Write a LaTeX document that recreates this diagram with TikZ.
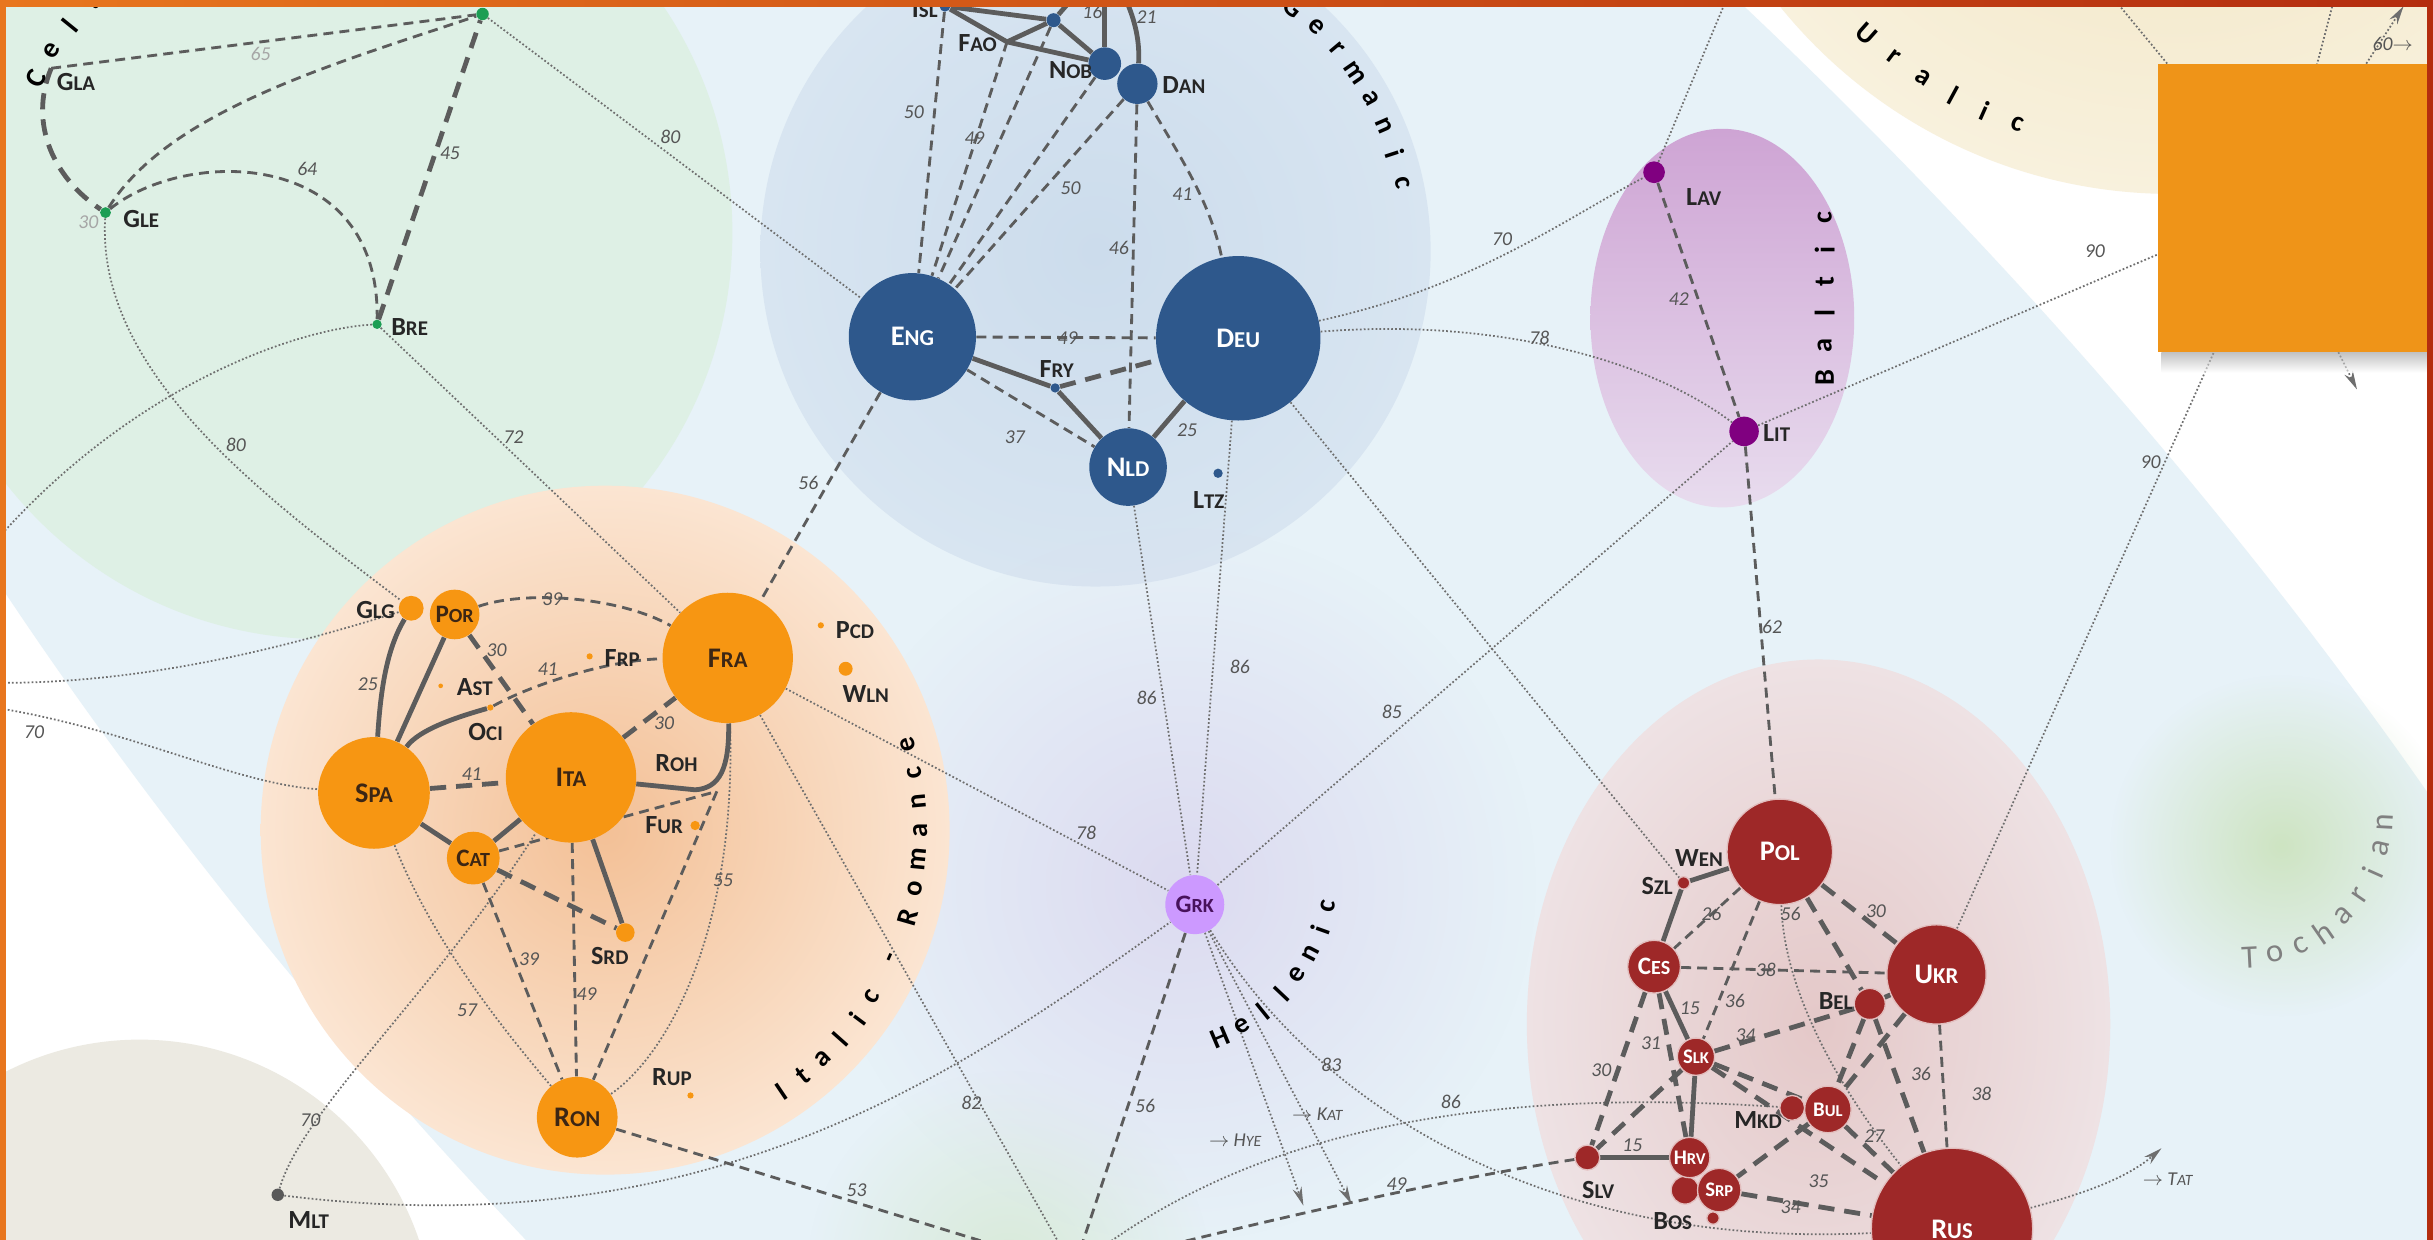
\documentclass[tikz,border=0pt]{standalone}
\usepackage{fontspec}
\setmainfont{Carlito}
\usetikzlibrary{calc,arrows.meta,fadings}

\definecolor{germ}{RGB}{46,88,140}
\definecolor{roman}{RGB}{247,150,18}
\definecolor{romtext}{RGB}{60,38,20}
\definecolor{slav}{RGB}{158,40,40}
\definecolor{balt}{RGB}{128,0,128}
\definecolor{celt}{RGB}{28,158,84}
\definecolor{grkfill}{RGB}{204,153,255}
\definecolor{grktext}{RGB}{72,18,92}
\definecolor{lnk}{RGB}{92,92,92}
\definecolor{thinlnk}{RGB}{110,110,110}
\definecolor{wtc}{RGB}{85,85,85}
\definecolor{bgblue}{RGB}{231,242,248}
\definecolor{bggreen}{RGB}{222,240,229}
\definecolor{bggerm}{RGB}{204,220,236}
\definecolor{bggermout}{RGB}{216,229,241}
\definecolor{bgroma}{RGB}{243,192,150}
\definecolor{bgromb}{RGB}{251,229,210}
\definecolor{bghell}{RGB}{220,218,240}
\definecolor{bgslava}{RGB}{228,200,200}
\definecolor{bgslavb}{RGB}{238,226,228}
\definecolor{bgbalta}{RGB}{206,164,212}
\definecolor{bgbaltb}{RGB}{232,220,238}
\definecolor{bgural}{RGB}{240,226,188}
\definecolor{bguralout}{RGB}{248,241,221}
\definecolor{bgbeige}{RGB}{236,234,226}
\definecolor{bgtoch}{RGB}{206,228,194}
\definecolor{framea}{RGB}{232,118,30}
\definecolor{frameb}{RGB}{180,45,15}
\definecolor{boxfill}{RGB}{239,148,24}

\pgfdeclarelayer{bg}
\pgfdeclarelayer{links}
\pgfsetlayers{bg,links,main}

\tikzfading[name=softdisc, inner color=transparent!0, outer color=transparent!100]

% language code: first letter, rest as small capitals
\newcommand\iso[2]{#1\scalebox{0.8}{#2}}

\begin{document}
\begin{tikzpicture}[x=0.25mm, y=-0.25mm,
    lang/.style={circle, inner sep=0pt, fill=#1},
    sz/.style={minimum size=#1*0.5mm},
    big/.style={font=\fontsize{13}{14}\selectfont\bfseries},
    mid/.style={font=\fontsize{11.5}{12}\selectfont\bfseries},
    sml/.style={font=\fontsize{9.5}{10}\selectfont\bfseries},
    tag/.style={font=\fontsize{12}{13}\selectfont\bfseries, text=black!85, inner sep=1pt},
    wt/.style={font=\fontsize{9}{10}\selectfont\itshape, text=wtc, inner sep=1pt},
    grp/.style={font=\fontsize{13}{14}\selectfont\bfseries, inner sep=0pt},
    romn/.style={lang=roman, text=romtext},
    slavn/.style={lang=slav, draw=white!70!slav, line width=0.6pt, text=white},
    strong/.style={draw=lnk, line width=2.2pt},
    longdash/.style={draw=lnk, line width=2.2pt, dash pattern=on 2.6mm off 1.6mm},
    mdash/.style={draw=lnk, line width=1.3pt, dash pattern=on 1.6mm off 1mm},
    dots/.style={draw=thinlnk, line width=0.8pt, densely dotted},
    tip/.style={-{Stealth[length=3mm, width=1.5mm]}}]

\useasboundingbox (0,0) rectangle (1568,799);
\clip (0,0) rectangle (1568,799);

% background regions
\begin{pgfonlayer}{bg}
\fill[white] (0,0) rectangle (1568,799);
\fill[bgblue, rotate around={-45:(800,470)}] (800,470) ellipse [x radius=1400, y radius=560];
\fill[bgbeige] (90,860) circle (190);
\fill[bgtoch, opacity=0.6, path fading=softdisc] (650,820) circle (130);
\shade[inner color=bgural, outer color=bguralout] (1400,-200) circle (325);
\fill[bggreen] (210,150) circle (262);
\shade[inner color=bggerm, outer color=bggermout] (706,162) circle (216);
\fill[bghell, path fading=softdisc] (760,570) circle (230);
\shade[inner color=bgroma, outer color=bgromb] (390,535) circle (222);
\shade[top color=bgbalta, bottom color=bgbaltb] (1110,205) ellipse [x radius=85, y radius=122];
\shade[inner color=bgslava, outer color=bgslavb] (1172,660) ellipse [x radius=188, y radius=235];
\fill[bgtoch, path fading=softdisc] (1470,545) circle (110);
\end{pgfonlayer}

% Celtic
\node[lang=celt, sz=4] (cym) at (311,9) {};
\coordinate (gla) at (33,44);
\node[lang=celt, sz=3.5] (gle) at (68,137) {};
\node[lang=celt, sz=3] (bre) at (243,209) {};
\node[tag] (glaT) at (49,53) {\iso{G}{LA}};
\node[tag] (gleT) at (91,141) {\iso{G}{LE}};
\node[tag] (breT) at (264,211) {\iso{B}{RE}};

% Germanic
\node[lang=germ, sz=41, big, text=white] (eng) at (588,217) {\iso{E}{NG}};
\node[lang=germ, sz=53, big, text=white] (deu) at (798,218) {\iso{D}{EU}};
\node[lang=germ, sz=25, big, text=white] (nld) at (727,301) {\iso{N}{LD}};
\node[lang=germ, sz=10.5] (nob) at (712,41) {};
\node[lang=germ, sz=13] (dan) at (733,54) {};
\node[lang=germ, sz=4.5] (nno) at (679,13) {};
\node[lang=germ, sz=3.5] (isl) at (609,4) {};
\node[lang=germ, sz=3] (fry) at (680,250) {};
\node[lang=germ, sz=3] (ltz) at (785,305) {};
\coordinate (fao) at (649,27);
\coordinate (swe) at (712,-25);
\node[tag] (islT) at (596,6) {\iso{I}{SL}};
\node[tag] (nnoT) at (672,-1) {\iso{N}{NO}};
\node[tag] (faoT) at (630,28) {\iso{F}{AO}};
\node[tag] (nobT) at (690,45) {\iso{N}{OB}};
\node[tag] (danT) at (763,55) {\iso{D}{AN}};
\node[tag] (fryT) at (681,238) {\iso{F}{RY}};
\node[tag] (ltzT) at (779,322) {\iso{L}{TZ}};

% Italic - Romance
\node[romn, sz=42, big] (fra) at (469,424) {\iso{F}{RA}};
\node[romn, sz=42, big] (ita) at (368,501) {\iso{I}{TA}};
\node[romn, sz=36, big] (spa) at (241,511) {\iso{S}{PA}};
\node[romn, sz=26, big] (ron) at (372,720) {\iso{R}{ON}};
\node[romn, sz=16, mid] (por) at (293,396) {\iso{P}{OR}};
\node[romn, sz=17, mid] (cat) at (305,553) {\iso{C}{AT}};
\node[romn, sz=8] (glg) at (265,392) {};
\node[romn, sz=6] (srd) at (403,601) {};
\node[romn, sz=4.5] (wln) at (545,431) {};
\node[romn, sz=3] (fur) at (448,532) {};
\node[romn, sz=2] (pcd) at (529,403) {};
\node[romn, sz=2] (frp) at (380,423) {};
\node[romn, sz=2] (oci) at (316,456) {};
\node[romn, sz=1.5] (ast) at (284,442) {};
\node[romn, sz=2] (rup) at (445,706) {};
\coordinate (roh) at (462,510);
\node[tag] (glgT) at (242,393) {\iso{G}{LG}};
\node[tag] (astT) at (306,443) {\iso{A}{ST}};
\node[tag] (ociT) at (313,472) {\iso{O}{CI}};
\node[tag] (frpT) at (401,424) {\iso{F}{RP}};
\node[tag] (pcdT) at (551,406) {\iso{P}{CD}};
\node[tag] (wlnT) at (558,447) {\iso{W}{LN}};
\node[tag] (rohT) at (436,492) {\iso{R}{OH}};
\node[tag] (furT) at (428,532) {\iso{F}{UR}};
\node[tag] (srdT) at (393,616) {\iso{S}{RD}};
\node[tag] (rupT) at (433,694) {\iso{R}{UP}};
\node[lang={black!65}, sz=4] (mlt) at (179,770) {};
\node[tag] (mltT) at (199,786) {\iso{M}{LT}};

% Hellenic
\node[lang=grkfill, sz=19, mid, text=grktext] (grk) at (770,583) {\iso{G}{RK}};

% Baltic
\node[lang=balt, sz=7] (lav) at (1066,111) {};
\node[lang=balt, sz=9.5] (lit) at (1124,278) {};
\node[tag] (lavT) at (1098,127) {\iso{L}{AV}};
\node[tag] (litT) at (1145,279) {\iso{L}{IT}};

% Balto-Slavic
\node[slavn, sz=34, big] (pol) at (1147,549) {\iso{P}{OL}};
\node[slavn, sz=32, big] (ukr) at (1248,628) {\iso{U}{KR}};
\node[slavn, sz=52, big] (rus) at (1258,792) {\iso{R}{US}};
\node[slavn, sz=17, mid] (ces) at (1066,623) {\iso{C}{ES}};
\node[slavn, sz=12, sml] (slk) at (1093,681) {\iso{S}{LK}};
\node[slavn, sz=15, sml] (bul) at (1178,715) {\iso{B}{UL}};
\node[slavn, sz=9] (mne) at (1086,767) {};
\node[slavn, sz=14, sml] (srp) at (1108,767) {\iso{S}{RP}};
\node[slavn, sz=13, sml] (hrv) at (1089,746) {\iso{H}{RV}};
\node[slavn, sz=8] (mkd) at (1155,714) {};
\node[slavn, sz=10] (bel) at (1205,647) {};
\node[slavn, sz=8] (slv) at (1023,746) {};
\node[slavn, sz=4] (szl) at (1085,569) {};
\node[slavn, sz=4] (bos) at (1104,785) {};
\node[tag] (wenT) at (1095,553) {\iso{W}{EN}};
\node[tag] (szlT) at (1068,571) {\iso{S}{ZL}};
\node[tag] (belT) at (1183,645) {\iso{B}{EL}};
\node[tag] (mkdT) at (1133,722) {\iso{M}{KD}};
\node[tag] (slvT) at (1030,767) {\iso{S}{LV}};
\node[tag] (bosT) at (1078,787) {\iso{B}{OS}};

% ends that lie outside the picture
\coordinate (alb) at (692,818);
\coordinate (est) at (1125,-30);
\coordinate (fin) at (1470,130);
\coordinate (uralA) at (1330,-40);
\coordinate (uralB) at (1512,-30);
\coordinate (lftA) at (-10,357);
\coordinate (lftB) at (-10,440);
\coordinate (lftC) at (-10,455);
\coordinate (hye) at (840,777);
\coordinate (kat) at (871,776);
\coordinate (tat) at (1393,740);
\coordinate (sixty) at (1549,4);
\coordinate (downarr) at (1519,251);
\coordinate (boxtop) at (1525,41);
\coordinate (boxbot) at (1507,227);

\begin{pgfonlayer}{links}
% far links
\draw[dots] (cym) -- (eng);
\draw[dots] (gle) .. controls (62,240) and (170,320) .. (glg);
\draw[dots] (bre) -- (fra);
\draw[dots] (bre) .. controls (190,212) and (80,250) .. (lftA);
\draw[dots] (lftB) .. controls (100,442) and (200,412) .. (glg);
\draw[dots] (lftC) .. controls (80,468) and (150,505) .. (spa);
\draw[dots] (mlt) .. controls (195,715) and (280,640) .. (ita);
\draw[dots] (mlt) .. controls (460,805) and (620,690) .. (grk);
\draw[dots] (spa) .. controls (280,610) and (330,670) .. (ron);
\draw[dots] (fra) .. controls (475,600) and (430,680) .. (ron);
\draw[dots] (fra) -- (alb);
\draw[dots] (fra) -- (grk);
\draw[dots] (nld) -- (grk);
\draw[dots] (deu) -- (grk);
\draw[dots] (grk) -- (lit);
\draw[dots] (deu) -- (szl);
\draw[dots] (deu) .. controls (950,185) and (1010,140) .. (lav);
\draw[dots] (deu) .. controls (960,205) and (1060,230) .. (lit);
\draw[dots] (lav) -- (est);
\draw[dots] (lit) -- (fin);
\draw[dots] (ukr) -- (fin);
\draw[dots] (uralA) -- (fin);
\draw[dots] (uralB) -- (fin);
\draw[dots, tip] (boxtop) -- (sixty);
\draw[dots, tip] (boxbot) -- (downarr);
\draw[dots] (alb) .. controls (800,730) and (950,700) .. (mkd);
\draw[dots] (grk) .. controls (850,715) and (1000,805) .. (rus);
\draw[dots, tip] (grk) -- (hye);
\draw[dots, tip] (grk) -- (kat);
\draw[dots, tip] (rus) .. controls (1340,770) and (1370,760) .. (tat);
\draw[dots] (pol) .. controls (1150,650) and (1200,720) .. (rus);
\draw[mdash] (eng) -- (fra);
\draw[mdash] (ron) -- (alb);
\draw[mdash] (grk) -- (alb);
\draw[mdash] (slv) .. controls (930,760) and (800,790) .. (alb);
\draw[mdash] (lit) -- (pol);
\draw[mdash] (lav) -- (lit);
% Celtic links
\draw[mdash] (gla) -- (cym);
\draw[mdash] (gle) .. controls (110,70) and (220,40) .. (cym);
\draw[mdash] (gle) .. controls (120,95) and (245,95) .. (bre);
\draw[longdash] (gla) .. controls (18,80) and (35,115) .. (gle);
\draw[longdash] (bre) -- (cym);
% Germanic links
\draw[strong] (isl) -- (nno);
\draw[strong] (isl) -- (fao) -- (nob);
\draw[strong] (fao) -- (nno) -- (nob);
\draw[strong] (nno) -- (swe);
\draw[strong] (nob) -- (swe);
\draw[strong] (dan) .. controls (735,20) and (728,0) .. (swe);
\draw[mdash] (isl) -- (eng);
\draw[mdash] (fao) -- (eng);
\draw[mdash] (nno) -- (eng);
\draw[mdash] (nob) -- (eng);
\draw[mdash] (dan) -- (eng);
\draw[mdash] (dan) -- (nld);
\draw[mdash] (dan) .. controls (760,100) and (780,130) .. (deu);
\draw[mdash] (eng) -- (deu);
\draw[mdash] (eng) -- (nld);
\draw[strong] (eng) -- (fry) -- (nld);
\draw[longdash] (fry) -- (deu);
\draw[strong] (deu) -- (nld);
% Romance links
\draw[strong] (glg) .. controls (248,420) and (245,450) .. (spa);
\draw[strong] (por) -- (spa);
\draw[longdash] (por) -- (ita);
\draw[mdash] (por) .. controls (340,380) and (400,385) .. (fra);
\draw[strong] (spa) .. controls (270,470) and (295,462) .. (oci);
\draw[mdash] (oci) .. controls (345,440) and (395,425) .. (fra);
\draw[longdash] (spa) -- (ita);
\draw[strong] (spa) -- (cat) -- (ita);
\draw[longdash] (ita) -- (fra);
\draw[strong] (ita) -- (448,509) .. controls (464,508) and (470,495) .. (fra);
\draw[mdash] (cat) -- (roh);
\draw[longdash] (cat) -- (srd);
\draw[strong] (ita) -- (srd);
\draw[mdash] (cat) -- (ron);
\draw[mdash] (ita) -- (ron);
\draw[mdash] (roh) -- (ron);
% Slavic links
\draw[strong] (szl) -- (pol);
\draw[strong] (szl) -- (ces) -- (slk) -- (hrv);
\draw[strong] (slv) -- (hrv);
\draw[strong] (bel) -- (ukr);
\draw[mdash] (pol) -- (ces);
\draw[mdash] (pol) -- (slk);
\draw[mdash] (ces) -- (ukr);
\draw[mdash] (ukr) -- (rus);
\draw[longdash] (pol) -- (ukr);
\draw[longdash] (pol) -- (bel);
\draw[longdash] (slk) -- (bel);
\draw[longdash] (slk) -- (bul);
\draw[longdash] (slk) -- (rus);
\draw[longdash] (slk) -- (slv);
\draw[longdash] (ces) -- (slv);
\draw[longdash] (ces) -- (hrv);
\draw[longdash] (ukr) -- (bul);
\draw[longdash] (bel) -- (bul);
\draw[longdash] (bel) -- (rus);
\draw[longdash] (bul) -- (rus);
\draw[longdash] (bul) -- (srp);
\draw[longdash] (srp) -- (rus);
\end{pgfonlayer}

% link weights
\node[wt, text=black!35] (w1) at (168,35) {65};
\node[wt] (w2) at (198,109) {64};
\node[wt] (w3) at (290,99) {45};
\node[wt, text=black!35] (w4) at (57,143) {30};
\node[wt] (w5) at (432,88) {80};
\node[wt] (w6) at (152,287) {80};
\node[wt] (w7) at (331,282) {72};
\node[wt] (w8) at (356,386) {39};
\node[wt] (w9) at (320,419) {30};
\node[wt] (w10) at (353,431) {41};
\node[wt] (w11) at (237,441) {25};
\node[wt] (w12) at (304,499) {41};
\node[wt] (w13) at (428,466) {30};
\node[wt] (w14) at (466,567) {55};
\node[wt] (w15) at (341,618) {39};
\node[wt] (w16) at (378,641) {49};
\node[wt] (w17) at (301,651) {57};
\node[wt] (w18) at (200,722) {70};
\node[wt] (w19) at (22,472) {70};
\node[wt] (w20) at (552,767) {53};
\node[wt] (w21) at (626,711) {82};
\node[wt] (w22) at (589,72) {50};
\node[wt] (w23) at (628,89) {49};
\node[wt] (w24) at (690,121) {50};
\node[wt] (w25) at (762,125) {41};
\node[wt] (w26) at (721,160) {46};
\node[wt] (w27) at (688,218) {49};
\node[wt] (w28) at (654,282) {37};
\node[wt] (w29) at (765,277) {25};
\node[wt] (w30) at (704,8) {16};
\node[wt] (w31) at (739,11) {21};
\node[wt] (w32) at (521,311) {56};
\node[wt] (w33) at (739,450) {86};
\node[wt] (w34) at (799,430) {86};
\node[wt] (w35) at (968,154) {70};
\node[wt] (w36) at (992,218) {78};
\node[wt] (w37) at (1082,193) {42};
\node[wt] (w38) at (1350,162) {90};
\node[wt] (w39) at (1386,298) {90};
\node[wt] (w40) at (1142,404) {62};
\node[wt] (w41) at (897,459) {85};
\node[wt] (w42) at (700,537) {78};
\node[wt] (w43) at (738,713) {56};
\node[wt] (w44) at (858,686) {83};
\node[wt] (w45) at (935,710) {86};
\node[wt] (w46) at (900,763) {49};
\node[wt] (w47) at (1103,589) {26};
\node[wt] (w48) at (1154,589) {56};
\node[wt] (w49) at (1209,587) {30};
\node[wt] (w50) at (1138,625) {38};
\node[wt] (w51) at (1118,645) {36};
\node[wt] (w52) at (1089,650) {15};
\node[wt] (w53) at (1125,667) {34};
\node[wt] (w54) at (1064,672) {31};
\node[wt] (w55) at (1032,690) {30};
\node[wt] (w56) at (1052,738) {15};
\node[wt] (w57) at (1238,692) {36};
\node[wt] (w58) at (1277,705) {38};
\node[wt] (w59) at (1208,732) {27};
\node[wt] (w60) at (1172,761) {35};
\node[wt] (w61) at (1154,778) {34};
\node[wt] (hyeT) at (796,735) {$\to$ \iso{H}{YE}};
\node[wt] (katT) at (849,718) {$\to$ \iso{K}{AT}};
\node[wt] (tatT) at (1397,760) {$\to$ \iso{T}{AT}};
\node[wt] (sixtyT) at (1542,28) {60$\to$};

% group names along arcs
\foreach \ch [count=\k from 0] in {G,e,r,m,a,n,i,c} {
  \pgfmathsetmacro\ang{-51+5.5*\k}
  \pgfmathsetmacro\rot{-(\ang)-90}
  \node[grp, rotate=\rot] (germ\k) at ($(706,162)+(\ang:203)$) {\ch};
}
\foreach \ch [count=\k from 0] in {C,e,l,t,i,c} {
  \pgfmathsetmacro\ang{208+5.5*\k}
  \pgfmathsetmacro\rot{-(\ang)-90}
  \node[grp, rotate=\rot] (celt\k) at ($(210,150)+(\ang:212)$) {\ch};
}
\foreach \ch [count=\k from 0] in {I,t,a,l,i,c} {
  \pgfmathsetmacro\ang{56-4.8*\k}
  \pgfmathsetmacro\rot{90-\ang}
  \node[grp, rotate=\rot] (ital\k) at ($(390,535)+(\ang:203)$) {\ch};
}
\node[grp, rotate=66] (itrom) at ($(390,535)+(24:203)$) {-};
\foreach \ch [count=\k from 0] in {R,o,m,a,n,c,e} {
  \pgfmathsetmacro\ang{16-5.3*\k}
  \pgfmathsetmacro\rot{90-\ang}
  \node[grp, rotate=\rot] (rom\k) at ($(390,535)+(\ang:203)$) {\ch};
}
\foreach \ch [count=\k from 0] in {H,e,l,l,e,n,i,c} {
  \pgfmathsetmacro\ang{67-7.9*\k}
  \pgfmathsetmacro\rot{90-\ang}
  \node[grp, rotate=\rot] (hell\k) at ($(740,560)+(\ang:118)$) {\ch};
}
\foreach \ch [count=\k from 0] in {U,r,a,l,i,c} {
  \pgfmathsetmacro\ang{131.6-4.4*\k}
  \pgfmathsetmacro\rot{90-\ang}
  \node[grp, rotate=\rot] (ural\k) at ($(1400,-200)+(\ang:297)$) {\ch};
}
\foreach \ch [count=\k from 0] in {T,o,c,h,a,r,i,a,n} {
  \pgfmathsetmacro\ang{87-10.5*\k}
  \pgfmathsetmacro\rot{90-\ang}
  \node[grp, font=\fontsize{15}{16}\selectfont, text=black!50, rotate=\rot] (toch\k) at ($(1445,525)+(\ang:92)$) {\ch};
}
\foreach \ch [count=\k from 0] in {B,a,l,t,i,c} {
  \node[grp, rotate=90] (balt\k) at (1176,243-20.5*\k) {\ch};
}

% box in the upper right corner
\shade[top color=black!40, bottom color=white, opacity=0.6] (1393,227) rectangle (1566,240);
\fill[boxfill] (1391,41) rectangle (1566,227);

% frame
\fill[left color=framea, right color=frameb] (0,0) rectangle (1568,4);
\fill[framea] (0,0) rectangle (4,799);
\fill[frameb] (1564,0) rectangle (1568,799);
\end{tikzpicture}
\end{document}
